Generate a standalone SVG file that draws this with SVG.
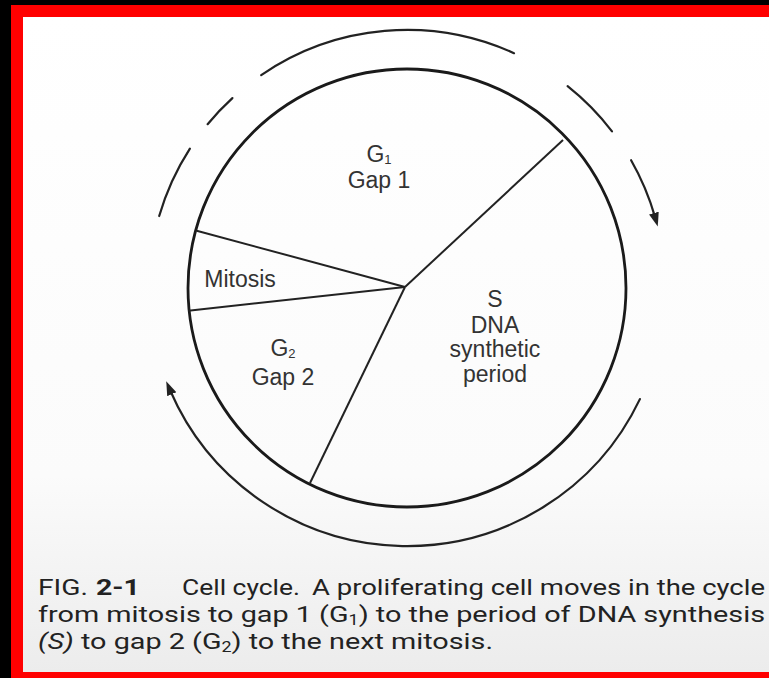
<svg xmlns="http://www.w3.org/2000/svg" width="769" height="678" viewBox="0 0 769 678">
<style>
.lbl{font-family:"Liberation Sans",Arial,sans-serif;font-size:23px;fill:#333;text-anchor:middle}
.cap{font-family:Roboto,"Liberation Sans",sans-serif;font-size:22.5px;fill:#222}
.arc{fill:none;stroke:#222;stroke-width:2.2;stroke-linecap:round}
.pie{fill:none;stroke:#222;stroke-width:2}
</style>
<defs>
<marker id="ah" markerUnits="userSpaceOnUse" markerWidth="16" markerHeight="12" refX="4" refY="5" orient="auto">
<path d="M0,0 L14,5 L0,10 z" fill="#222"/>
</marker>
<linearGradient id="bg" x1="0" y1="0" x2="0" y2="1">
<stop offset="0" stop-color="#ffffff"/>
<stop offset="0.7" stop-color="#fbfbfb"/>
<stop offset="1" stop-color="#ececec"/>
</linearGradient>
</defs>
<rect x="0" y="0" width="769" height="678" fill="#000"/>
<rect x="11" y="5" width="758" height="673" fill="#ff0000"/>
<rect x="23" y="17" width="746" height="655" fill="url(#bg)"/>

<g id="connectors">
<path class="arc" d="M261.2,75.1 A258,258 0 0,1 514.0,53.2"/>
<path class="arc" d="M567.6,86.1 A258,258 0 0,1 612.0,131.3"/>
<path class="arc" d="M631.1,160.2 A258,258 0 0,1 655.0,216.9" marker-end="url(#ah)"/>
<path class="arc" d="M207.6,124.2 A258,258 0 0,1 232.4,98.1"/>
<path class="arc" d="M159.2,216.0 A258,258 0 0,1 189.9,148.6"/>
<path class="arc" d="M639.9,399.1 A258,258 0 0,1 170.2,390.5" marker-end="url(#ah)"/>
</g>

<g id="cycle">
<circle cx="407" cy="288" r="219" fill="none" stroke="#1a1a1a" stroke-width="2.8"/>
<line class="pie" x1="405" y1="287" x2="196.7" y2="230.7"/>
<line class="pie" x1="405" y1="287" x2="188.3" y2="310.7"/>
<line class="pie" x1="405" y1="287" x2="563" y2="140"/>
<line class="pie" x1="405" y1="287" x2="310" y2="483"/>
</g>

<g id="g1">
<text class="lbl" x="379" y="162">G<tspan font-size="13" dy="2">1</tspan></text>
<text class="lbl" x="379" y="188">Gap 1</text>
</g>
<g id="mitosis">
<text class="lbl" x="240" y="287">Mitosis</text>
</g>
<g id="s">
<text class="lbl" x="495" y="307">S</text>
<text class="lbl" x="495" y="333">DNA</text>
<text class="lbl" x="495" y="357">synthetic</text>
<text class="lbl" x="495" y="382">period</text>
</g>
<g id="g2">
<text class="lbl" x="283" y="356">G<tspan font-size="13" dy="2">2</tspan></text>
<text class="lbl" x="283" y="385">Gap 2</text>
</g>

<g id="caption">
<text class="cap" x="38" y="595" textLength="50" lengthAdjust="spacingAndGlyphs">FIG.</text>
<text class="cap" x="96" y="595" font-weight="bold" textLength="44" lengthAdjust="spacingAndGlyphs">2-1</text>
<text class="cap" x="182" y="595" textLength="118" lengthAdjust="spacingAndGlyphs">Cell cycle.</text>
<text class="cap" x="312" y="595" textLength="453" lengthAdjust="spacingAndGlyphs">A proliferating cell moves in the cycle</text>
<text class="cap" x="38" y="622" textLength="727" lengthAdjust="spacingAndGlyphs">from mitosis to gap 1 (G<tspan font-size="14" dy="3">1</tspan><tspan dy="-3">) to the period of DNA synthesis</tspan></text>
<text class="cap" x="38" y="649" textLength="455" lengthAdjust="spacingAndGlyphs"><tspan font-style="italic">(S)</tspan> to gap 2 (G<tspan font-size="14" dy="3">2</tspan><tspan dy="-3">) to the next mitosis.</tspan></text>
</g>
</svg>
